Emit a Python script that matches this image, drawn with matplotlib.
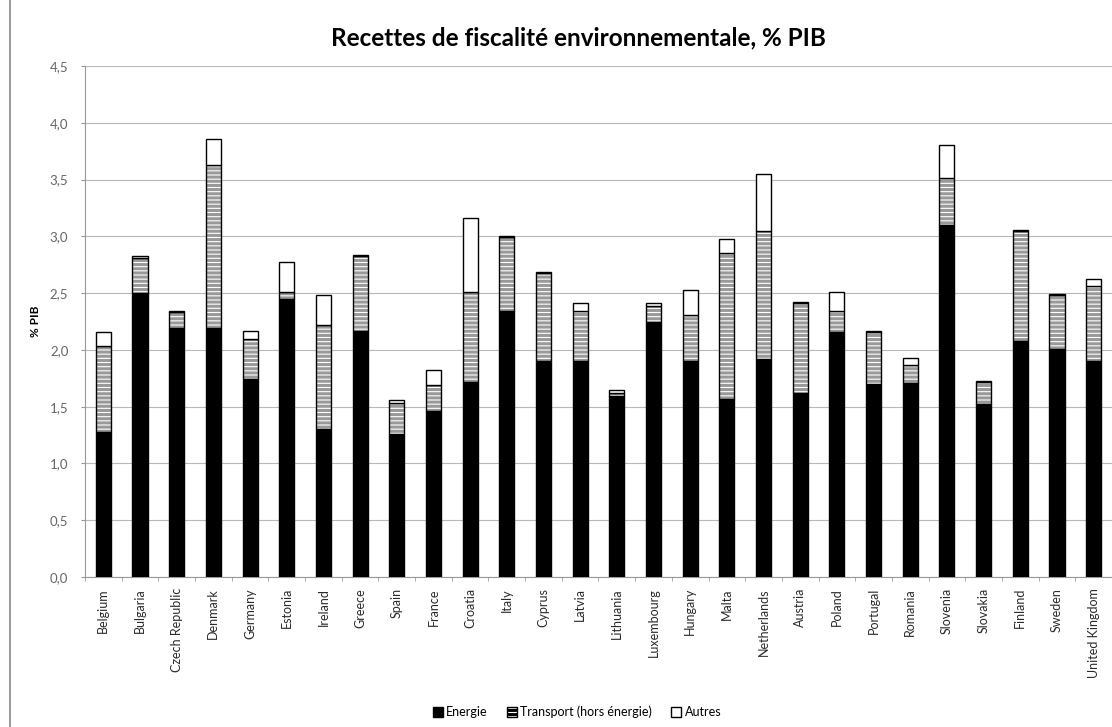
import matplotlib
matplotlib.use("Agg")
import matplotlib.pyplot as plt
from matplotlib.patches import Patch
from matplotlib.lines import Line2D
from matplotlib.ticker import MultipleLocator, FuncFormatter
import numpy as np

countries = ["Belgium", "Bulgaria", "Czech Republic", "Denmark", "Germany", "Estonia",
             "Ireland", "Greece", "Spain", "France", "Croatia", "Italy", "Cyprus", "Latvia",
             "Lithuania", "Luxembourg", "Hungary", "Malta", "Netherlands", "Austria",
             "Poland", "Portugal", "Romania", "Slovenia", "Slovakia", "Finland", "Sweden",
             "United Kingdom"]

energie = [1.28, 2.50, 2.19, 2.19, 1.74, 2.45, 1.30, 2.17, 1.26, 1.46, 1.72, 2.34, 1.90, 1.90,
           1.59, 2.25, 1.90, 1.57, 1.92, 1.62, 2.16, 1.70, 1.71, 3.10, 1.52, 2.08, 2.01, 1.90]
transport = [0.75, 0.31, 0.14, 1.44, 0.36, 0.06, 0.92, 0.66, 0.27, 0.23, 0.79, 0.65, 0.78, 0.44,
             0.03, 0.14, 0.41, 1.28, 1.13, 0.79, 0.18, 0.46, 0.16, 0.41, 0.20, 0.97, 0.47, 0.66]
autres = [0.13, 0.02, 0.01, 0.23, 0.07, 0.26, 0.26, 0.01, 0.03, 0.13, 0.65, 0.01, 0.01, 0.07,
          0.03, 0.02, 0.22, 0.13, 0.50, 0.01, 0.17, 0.01, 0.06, 0.29, 0.01, 0.01, 0.01, 0.06]

plt.rcParams["font.family"] = ["Lato", "DejaVu Sans"]
plt.rcParams["hatch.linewidth"] = 2.2
plt.rcParams["hatch.color"] = "#999999"

fig = plt.figure(figsize=(11.12, 7.27), dpi=100)
ax = fig.add_axes([85 / 1112, 1 - 577 / 727, 1 - 85 / 1112, (577 - 66) / 727])

x = np.arange(len(countries))
e = np.array(energie)
t = np.array(transport)
o = np.array(autres)
w = 0.41

ax.bar(x, e, w, color="black", edgecolor="black", linewidth=1.0, zorder=3)
# striped transport segment: grey hatch on white, then a black outline
ax.bar(x, t, w, bottom=e, facecolor="white", edgecolor="#999999", hatch="----",
       linewidth=0, zorder=3)
ax.bar(x, t, w, bottom=e, fill=False, edgecolor="black", linewidth=1.0, zorder=4)
ax.bar(x, o, w, bottom=e + t, facecolor="white", edgecolor="black", linewidth=1.0, zorder=4)

ax.set_xlim(-0.5, len(countries) - 0.5)
ax.set_ylim(0, 4.5)
ax.yaxis.set_major_locator(MultipleLocator(0.5))
ax.yaxis.set_major_formatter(FuncFormatter(lambda v, p: f"{v:.1f}".replace(".", ",")))
ax.grid(axis="y", color="#b8b8b8", linewidth=0.8, zorder=0)
ax.set_xticks(x)
ax.set_xticklabels(countries, rotation=90, fontsize=9, color="#2a2a2a")
ax.set_xticks(np.arange(-0.5, len(countries), 1), minor=True)
ax.tick_params(axis="x", which="major", length=0, pad=8)
ax.tick_params(axis="x", which="minor", length=3, color="#999999")
ax.tick_params(axis="y", length=3, color="#999999", labelsize=9.5, labelcolor="#666666",
               pad=9)
for s in ["top", "right"]:
    ax.spines[s].set_visible(False)
ax.spines["left"].set_color("#999999")
ax.spines["bottom"].set_color("#999999")

ax.set_ylabel("% PIB", fontsize=8.5, fontweight="bold", labelpad=6)
fig.text(578 / 1112, 1 - 38 / 727, "Recettes de fiscalité environnementale, % PIB",
         ha="center", va="center", fontsize=17.5, fontweight="bold")

# left frame line
fig.add_artist(Line2D([10 / 1112, 10 / 1112], [0, 1], color="#888888", linewidth=1.2))

handles = [Patch(facecolor="black", edgecolor="black"),
           Patch(facecolor="white", edgecolor="black", hatch="----"),
           Patch(facecolor="white", edgecolor="black")]
fig.legend(handles, ["Energie", "Transport (hors énergie)", "Autres"], loc="center",
           bbox_to_anchor=(577 / 1112, 1 - 712 / 727), ncol=3, frameon=False, fontsize=9,
           handlelength=0.8, handleheight=0.8, handletextpad=0.3, columnspacing=1.5)

fig.savefig("out.png", dpi=100)
